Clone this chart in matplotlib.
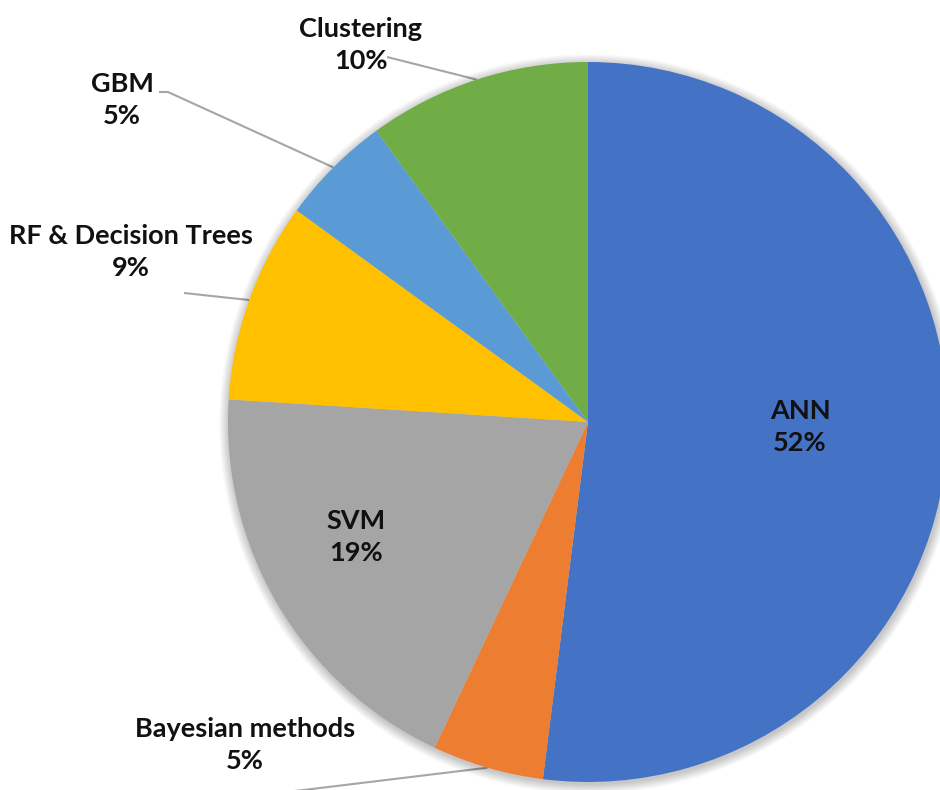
import numpy as np
import matplotlib.pyplot as plt
from matplotlib.patches import Circle

# data
labels = ['ANN', 'Bayesian methods', 'SVM', 'RF & Decision Trees', 'GBM', 'Clustering']
shares = [52, 5, 19, 9, 5, 10]
colors = ['#4472C4', '#ED7D31', '#A5A5A5', '#FFC000', '#5B9BD5', '#70AD47']

W, H = 940, 790
fig = plt.figure(figsize=(W / 100, H / 100), dpi=100)
ax = fig.add_axes([0, 0, 1, 1])

cx, cy, r = 588, H - 422, 360

# soft shadow round the pie
for k in range(14, 0, -1):
    ax.add_patch(Circle((cx + 1, cy - 2), r + k * 0.7, color='black', alpha=0.015, lw=0))

wedges, _ = ax.pie(shares, colors=colors, startangle=90, counterclock=False,
                   center=(cx, cy), radius=r, wedgeprops=dict(linewidth=0))

ax.set_xlim(0, W)
ax.set_ylim(0, H)
ax.set_aspect('equal')
ax.axis('off')

font = dict(family=['Lato', 'DejaVu Sans'], weight='bold', size=19.5, color='#111111')

# label block centres (pixel coords from top), and leader start points
label_pos = {
    'ANN': (800, 427),
    'Bayesian methods': (245, 745),
    'SVM': (356, 537),
    'RF & Decision Trees': (131, 252),
    'GBM': (122, 100),
    'Clustering': (361, 45),
}
leader_start = {
    'Bayesian methods': [(287, 792)],
    'RF & Decision Trees': [(184, 293)],
    'GBM': [(159, 92), (168, 92)],
    'Clustering': [(387, 57)],
}

for w, lab, val in zip(wedges, labels, shares):
    x, y = label_pos[lab]
    ax.text(x, H - y, f'{lab}\n{val}%', ha='center', va='center',
            linespacing=1.42, zorder=5, **font)
    if lab in leader_start:
        mid = np.deg2rad((w.theta1 + w.theta2) / 2)
        ex, ey = cx + r * np.cos(mid), cy + r * np.sin(mid)
        pts = [(px, H - py) for px, py in leader_start[lab]] + [(ex, ey)]
        xs, ys = zip(*pts)
        ax.plot(xs, ys, color='#A6A6A6', lw=1.5, zorder=0.5, solid_capstyle='butt')

fig.savefig('out.png', dpi=100)
